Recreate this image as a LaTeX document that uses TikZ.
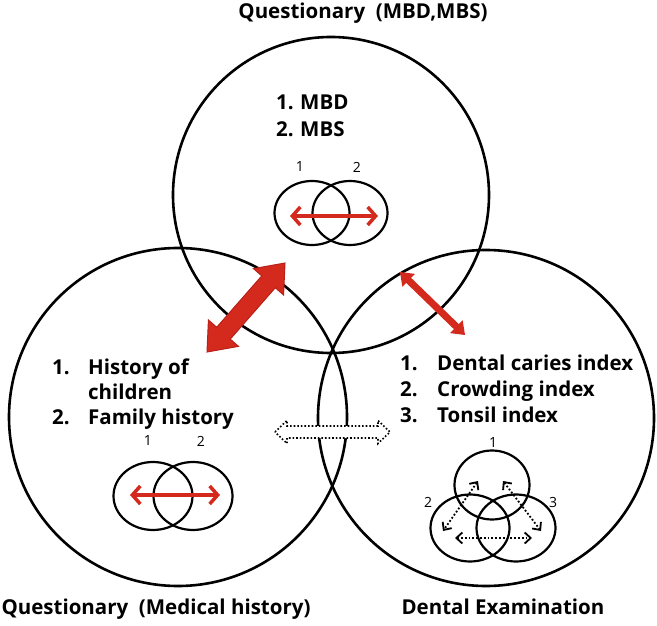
\documentclass[tikz,border=0pt]{standalone}
\usepackage{fontspec}
\setmainfont{Open Sans}
\usetikzlibrary{calc,arrows.meta,shapes.geometric}
\definecolor{arred}{HTML}{D42A1E}
\definecolor{arredd}{HTML}{B82018}
\newcommand\blockarrow[6]{%
  \path ($(#1)!#5!(#2)$) coordinate (bap) ($(#2)!#5!(#1)$) coordinate (baq);
  \draw[#6] (#1) -- ($(bap)!#4!90:(#2)$) -- ($(bap)!#3!90:(#2)$)
    -- ($(baq)!#3!-90:(#1)$) -- ($(baq)!#4!-90:(#1)$) -- (#2)
    -- ($(baq)!#4!90:(#1)$) -- ($(baq)!#3!90:(#1)$)
    -- ($(bap)!#3!-90:(#2)$) -- ($(bap)!#4!-90:(#2)$) -- cycle;}
\begin{document}
\begin{tikzpicture}[x=1pt,y=-1pt,
  big/.style={circle,draw=black,line width=2.6pt,inner sep=0,outer sep=0},
  small/.style={ellipse,draw=black,line width=2.2pt,inner sep=0,outer sep=0},
  txt/.style={font=\bfseries\fontsize{20.5}{24}\selectfont,anchor=base west,inner sep=0},
  title/.style={font=\bfseries\fontsize{20.5}{24}\selectfont,anchor=base,inner sep=0},
  num/.style={font=\fontsize{14}{16}\selectfont,inner sep=0},
  redarr/.style={draw=arred,line width=3.5pt,{Straight Barb[length=8pt,width=18pt]}-{Straight Barb[length=8pt,width=18pt]}},
  dotarr/.style={draw=black,line width=1.8pt,dotted,{Straight Barb[length=6pt,width=11pt]}-{Straight Barb[length=6pt,width=11pt]}},
]
\useasboundingbox (0,0) rectangle (657,626);
% big circles
\node[big,minimum size=316pt] (ctop) at (331,195) {};
\node[big,minimum size=338pt] (cleft) at (178,417) {};
\node[big,minimum size=336pt] (cright) at (486,418) {};
% titles
\node[title] (ttop) at (363,19) {Questionary\ \ (MBD,MBS)};
\node[title] (tleft) at (156,614) {Questionary\ \ (Medical history)};
\node[title] (tright) at (503,614) {Dental Examination};
% top texts
\node[txt] (a1) at (276,110) {1.};
\node[txt] (a1t) at (300,110) {MBD};
\node[txt] (a2) at (276,137) {2.};
\node[txt] (a2t) at (300,137) {MBS};
% left texts
\node[txt] (b1) at (52,374) {1.};
\node[txt] (b1t) at (88,374) {History of};
\node[txt] (b1u) at (88,399) {children};
\node[txt] (b2) at (52,424) {2.};
\node[txt] (b2t) at (88,424) {Family history};
% right texts
\node[txt] (c1) at (400,370) {1.};
\node[txt] (c1t) at (437,370) {Dental caries index};
\node[txt] (c2) at (400,396) {2.};
\node[txt] (c2t) at (437,396) {Crowding index};
\node[txt] (c3) at (400,422) {3.};
\node[txt] (c3t) at (437,422) {Tonsil index};
% top venn
\node[small,minimum width=75pt,minimum height=64pt] (tv1) at (312,213) {};
\node[small,minimum width=75pt,minimum height=64pt] (tv2) at (350,213) {};
\node[num] (tn1) at (300,167) {1};
\node[num] (tn2) at (357,167) {2};
\coordinate (ta) at (290,216);
\coordinate (tb) at (378,216);
\draw[redarr] (ta) -- (tb);
% left venn
\node[small,minimum width=79pt,minimum height=68pt] (lv1) at (153,496) {};
\node[small,minimum width=79pt,minimum height=68pt] (lv2) at (193,496) {};
\node[num] (ln1) at (148,441) {1};
\node[num] (ln2) at (201,441) {2};
\coordinate (la) at (130,495);
\coordinate (lb) at (220,495);
\draw[redarr] (la) -- (lb);
% right venn
\node[small,minimum width=75pt,minimum height=69pt] (rv1) at (492,485) {};
\node[small,minimum width=79pt,minimum height=67pt] (rv2) at (470,528) {};
\node[small,minimum width=79pt,minimum height=67pt] (rv3) at (516,528) {};
\node[num] (rn1) at (493,443) {1};
\node[num] (rn2) at (428,502) {2};
\node[num] (rn3) at (553,502) {3};
\coordinate (d1a) at (478,481);
\coordinate (d1b) at (443,531);
\coordinate (d2a) at (503,481);
\coordinate (d2b) at (541,531);
\coordinate (d3a) at (455,538);
\coordinate (d3b) at (532,538);
\draw[dotarr] (d1a) -- (d1b);
\draw[dotarr] (d2a) -- (d2b);
\draw[dotarr] (d3a) -- (d3b);
% block arrows between circles
\coordinate (T1) at (207,352);
\coordinate (T2) at (285,263);
\blockarrow{T1}{T2}{9pt}{20pt}{25pt}{fill=arred,draw=arredd,line width=1pt}
\coordinate (R1) at (400,272);
\coordinate (R2) at (465,335);
\blockarrow{R1}{R2}{3.5pt}{9pt}{12pt}{fill=arred,draw=none}
\coordinate (H1) at (275,432);
\coordinate (H2) at (390,432);
\blockarrow{H1}{H2}{6pt}{11.5pt}{12pt}{draw=black,fill=white,line width=1.6pt,dotted}
\end{tikzpicture}
\end{document}
